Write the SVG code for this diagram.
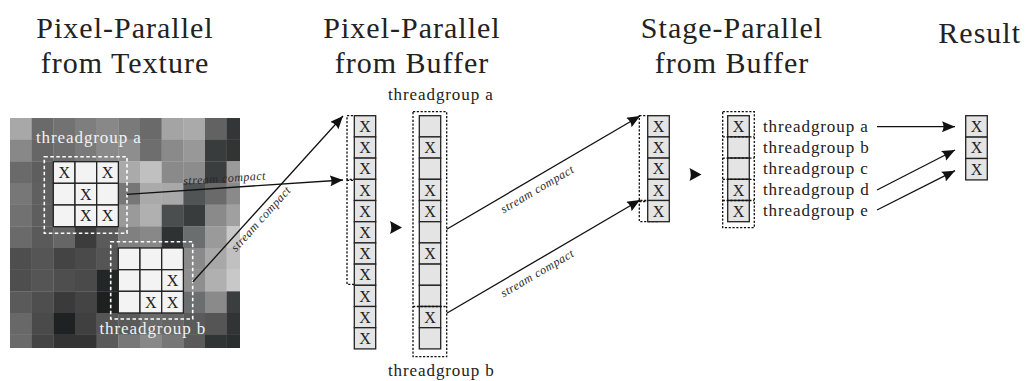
<svg xmlns="http://www.w3.org/2000/svg" width="1027" height="381" viewBox="0 0 1027 381">
  <style>
    .head { font-family: "Liberation Serif", "Times New Roman", serif; font-size: 30px; fill: #222; letter-spacing: 1px; text-anchor: middle; }
    .tg { font-family: "Liberation Serif", "Times New Roman", serif; font-size: 17px; fill: #222; letter-spacing: 0.9px; }
    .tgw { font-family: "Liberation Serif", "Times New Roman", serif; font-size: 17px; fill: #f2f2f2; letter-spacing: 0.9px; }
    .sc { font-family: "Liberation Serif", "Times New Roman", serif; font-size: 12px; font-style: italic; fill: #2a2a2a; letter-spacing: 0.5px; text-anchor: middle; }
    .x { font-family: "Liberation Serif", "Times New Roman", serif; font-size: 16px; fill: #222; text-anchor: middle; }
    .cell { fill: #e4e4e4; stroke: #222; stroke-width: 1.3; }
    .gcell { fill: #f3f3f3; stroke: #222; stroke-width: 1.3; }
    .wdash { fill: none; stroke: #fff; stroke-width: 1.6; stroke-dasharray: 3.5 2.5; }
    .kdash { fill: none; stroke: #111; stroke-width: 1.3; stroke-dasharray: 2.2 1.6; }
    .conn { fill: none; stroke: #111; stroke-width: 1.3; marker-end: url(#tip); }
    .head-tri { fill: #111; }
  </style>
  <defs>
    <marker id="tip" markerUnits="userSpaceOnUse" markerWidth="13" markerHeight="11" refX="13" refY="5.5" orient="auto">
      <path d="M0,0 L13,5.5 L0,11 Q3,5.5 0,0 z" fill="#111"/>
    </marker>
    <clipPath id="texclip"><rect x="10" y="118" width="230" height="230"/></clipPath>
  </defs>

  <rect width="1027" height="381" fill="#fff"/>

  <!-- column headings -->
  <g id="headings">
    <text class="head" x="125" y="38">Pixel-Parallel</text>
    <text class="head" x="125" y="73">from Texture</text>
    <text class="head" x="412" y="38">Pixel-Parallel</text>
    <text class="head" x="412" y="73">from Buffer</text>
    <text class="head" x="732" y="38">Stage-Parallel</text>
    <text class="head" x="732" y="73">from Buffer</text>
    <text class="head" x="1021" y="43" style="text-anchor:end">Result</text>
  </g>

  <!-- input texture: 11x11 grey texels -->
  <g id="texture" clip-path="url(#texclip)">
    <g transform="translate(10,118)">
      <rect x="0" y="0" width="21.9" height="21.9" fill="#a8a8a8"/><rect x="21.67" y="0" width="21.9" height="21.9" fill="#6a6a6a"/><rect x="43.33" y="0" width="21.9" height="21.9" fill="#727272"/><rect x="65" y="0" width="21.9" height="21.9" fill="#7e7e7e"/><rect x="86.67" y="0" width="21.9" height="21.9" fill="#888888"/><rect x="108.33" y="0" width="21.9" height="21.9" fill="#7a7a7a"/><rect x="130" y="0" width="21.9" height="21.9" fill="#6a6a6a"/><rect x="151.67" y="0" width="21.9" height="21.9" fill="#a4a4a4"/><rect x="173.33" y="0" width="21.9" height="21.9" fill="#aaaaaa"/><rect x="195" y="0" width="21.9" height="21.9" fill="#626262"/><rect x="216.67" y="0" width="21.9" height="21.9" fill="#333636"/>
      <rect x="0" y="21.67" width="21.9" height="21.9" fill="#888888"/><rect x="21.67" y="21.67" width="21.9" height="21.9" fill="#666666"/><rect x="43.33" y="21.67" width="21.9" height="21.9" fill="#6e6e6e"/><rect x="65" y="21.67" width="21.9" height="21.9" fill="#7a7a7a"/><rect x="86.67" y="21.67" width="21.9" height="21.9" fill="#8a8a8a"/><rect x="108.33" y="21.67" width="21.9" height="21.9" fill="#8e8e8e"/><rect x="130" y="21.67" width="21.9" height="21.9" fill="#6e6e6e"/><rect x="151.67" y="21.67" width="21.9" height="21.9" fill="#8a8a8a"/><rect x="173.33" y="21.67" width="21.9" height="21.9" fill="#989898"/><rect x="195" y="21.67" width="21.9" height="21.9" fill="#383c3c"/><rect x="216.67" y="21.67" width="21.9" height="21.9" fill="#323434"/>
      <rect x="0" y="43.33" width="21.9" height="21.9" fill="#6a6a6a"/><rect x="21.67" y="43.33" width="21.9" height="21.9" fill="#5e5e5e"/><rect x="43.33" y="43.33" width="21.9" height="21.9" fill="#707070"/><rect x="65" y="43.33" width="21.9" height="21.9" fill="#787878"/><rect x="86.67" y="43.33" width="21.9" height="21.9" fill="#888888"/><rect x="108.33" y="43.33" width="21.9" height="21.9" fill="#aaaaaa"/><rect x="130" y="43.33" width="21.9" height="21.9" fill="#c0c0c0"/><rect x="151.67" y="43.33" width="21.9" height="21.9" fill="#8a8a8a"/><rect x="173.33" y="43.33" width="21.9" height="21.9" fill="#8c8c8c"/><rect x="195" y="43.33" width="21.9" height="21.9" fill="#3a3e3e"/><rect x="216.67" y="43.33" width="21.9" height="21.9" fill="#9a9a9a"/>
      <rect x="0" y="65" width="21.9" height="21.9" fill="#777777"/><rect x="21.67" y="65" width="21.9" height="21.9" fill="#606060"/><rect x="43.33" y="65" width="21.9" height="21.9" fill="#707070"/><rect x="65" y="65" width="21.9" height="21.9" fill="#787878"/><rect x="86.67" y="65" width="21.9" height="21.9" fill="#808080"/><rect x="108.33" y="65" width="21.9" height="21.9" fill="#777777"/><rect x="130" y="65" width="21.9" height="21.9" fill="#aaaaaa"/><rect x="151.67" y="65" width="21.9" height="21.9" fill="#a8a8a8"/><rect x="173.33" y="65" width="21.9" height="21.9" fill="#505454"/><rect x="195" y="65" width="21.9" height="21.9" fill="#6a6a6a"/><rect x="216.67" y="65" width="21.9" height="21.9" fill="#8a8a8a"/>
      <rect x="0" y="86.67" width="21.9" height="21.9" fill="#717171"/><rect x="21.67" y="86.67" width="21.9" height="21.9" fill="#5e5e5e"/><rect x="43.33" y="86.67" width="21.9" height="21.9" fill="#6a6a6a"/><rect x="65" y="86.67" width="21.9" height="21.9" fill="#707070"/><rect x="86.67" y="86.67" width="21.9" height="21.9" fill="#787878"/><rect x="108.33" y="86.67" width="21.9" height="21.9" fill="#9a9a9a"/><rect x="130" y="86.67" width="21.9" height="21.9" fill="#b0b0b0"/><rect x="151.67" y="86.67" width="21.9" height="21.9" fill="#4a4e4e"/><rect x="173.33" y="86.67" width="21.9" height="21.9" fill="#383c3c"/><rect x="195" y="86.67" width="21.9" height="21.9" fill="#8a8a8a"/><rect x="216.67" y="86.67" width="21.9" height="21.9" fill="#a0a0a0"/>
      <rect x="0" y="108.33" width="21.9" height="21.9" fill="#6a6a6a"/><rect x="21.67" y="108.33" width="21.9" height="21.9" fill="#5a5a5a"/><rect x="43.33" y="108.33" width="21.9" height="21.9" fill="#666666"/><rect x="65" y="108.33" width="21.9" height="21.9" fill="#3c3c3c"/><rect x="86.67" y="108.33" width="21.9" height="21.9" fill="#5a5a5a"/><rect x="108.33" y="108.33" width="21.9" height="21.9" fill="#808080"/><rect x="130" y="108.33" width="21.9" height="21.9" fill="#888888"/><rect x="151.67" y="108.33" width="21.9" height="21.9" fill="#2e3232"/><rect x="173.33" y="108.33" width="21.9" height="21.9" fill="#6a6e6e"/><rect x="195" y="108.33" width="21.9" height="21.9" fill="#9a9a9a"/><rect x="216.67" y="108.33" width="21.9" height="21.9" fill="#c8c8c8"/>
      <rect x="0" y="130" width="21.9" height="21.9" fill="#4e4e4e"/><rect x="21.67" y="130" width="21.9" height="21.9" fill="#555555"/><rect x="43.33" y="130" width="21.9" height="21.9" fill="#444444"/><rect x="65" y="130" width="21.9" height="21.9" fill="#4a4a4a"/><rect x="86.67" y="130" width="21.9" height="21.9" fill="#555555"/><rect x="108.33" y="130" width="21.9" height="21.9" fill="#666666"/><rect x="130" y="130" width="21.9" height="21.9" fill="#707070"/><rect x="151.67" y="130" width="21.9" height="21.9" fill="#5a5a5a"/><rect x="173.33" y="130" width="21.9" height="21.9" fill="#8a8a8a"/><rect x="195" y="130" width="21.9" height="21.9" fill="#a8a8a8"/><rect x="216.67" y="130" width="21.9" height="21.9" fill="#c0c0c0"/>
      <rect x="0" y="151.67" width="21.9" height="21.9" fill="#4e4e4e"/><rect x="21.67" y="151.67" width="21.9" height="21.9" fill="#555555"/><rect x="43.33" y="151.67" width="21.9" height="21.9" fill="#4e4e4e"/><rect x="65" y="151.67" width="21.9" height="21.9" fill="#4a4a4a"/><rect x="86.67" y="151.67" width="21.9" height="21.9" fill="#222626"/><rect x="108.33" y="151.67" width="21.9" height="21.9" fill="#444444"/><rect x="130" y="151.67" width="21.9" height="21.9" fill="#707070"/><rect x="151.67" y="151.67" width="21.9" height="21.9" fill="#606060"/><rect x="173.33" y="151.67" width="21.9" height="21.9" fill="#8e8e8e"/><rect x="195" y="151.67" width="21.9" height="21.9" fill="#b0b0b0"/><rect x="216.67" y="151.67" width="21.9" height="21.9" fill="#c8c8c8"/>
      <rect x="0" y="173.33" width="21.9" height="21.9" fill="#5a5a5a"/><rect x="21.67" y="173.33" width="21.9" height="21.9" fill="#4e4e4e"/><rect x="43.33" y="173.33" width="21.9" height="21.9" fill="#3a3a3a"/><rect x="65" y="173.33" width="21.9" height="21.9" fill="#444444"/><rect x="86.67" y="173.33" width="21.9" height="21.9" fill="#1e2020"/><rect x="108.33" y="173.33" width="21.9" height="21.9" fill="#555555"/><rect x="130" y="173.33" width="21.9" height="21.9" fill="#777777"/><rect x="151.67" y="173.33" width="21.9" height="21.9" fill="#666666"/><rect x="173.33" y="173.33" width="21.9" height="21.9" fill="#6a6e6e"/><rect x="195" y="173.33" width="21.9" height="21.9" fill="#8a8a8a"/><rect x="216.67" y="173.33" width="21.9" height="21.9" fill="#3a3e3e"/>
      <rect x="0" y="195" width="21.9" height="21.9" fill="#686868"/><rect x="21.67" y="195" width="21.9" height="21.9" fill="#4a4a4a"/><rect x="43.33" y="195" width="21.9" height="21.9" fill="#1e2222"/><rect x="65" y="195" width="21.9" height="21.9" fill="#404040"/><rect x="86.67" y="195" width="21.9" height="21.9" fill="#555555"/><rect x="108.33" y="195" width="21.9" height="21.9" fill="#5a5a5a"/><rect x="130" y="195" width="21.9" height="21.9" fill="#6a6a6a"/><rect x="151.67" y="195" width="21.9" height="21.9" fill="#666666"/><rect x="173.33" y="195" width="21.9" height="21.9" fill="#5a5a5a"/><rect x="195" y="195" width="21.9" height="21.9" fill="#555555"/><rect x="216.67" y="195" width="21.9" height="21.9" fill="#303434"/>
      <rect x="0" y="216.67" width="21.9" height="21.9" fill="#6a6a6a"/><rect x="21.67" y="216.67" width="21.9" height="21.9" fill="#444444"/><rect x="43.33" y="216.67" width="21.9" height="21.9" fill="#333333"/><rect x="65" y="216.67" width="21.9" height="21.9" fill="#333333"/><rect x="86.67" y="216.67" width="21.9" height="21.9" fill="#5a5a5a"/><rect x="108.33" y="216.67" width="21.9" height="21.9" fill="#777777"/><rect x="130" y="216.67" width="21.9" height="21.9" fill="#888888"/><rect x="151.67" y="216.67" width="21.9" height="21.9" fill="#777777"/><rect x="173.33" y="216.67" width="21.9" height="21.9" fill="#5a5a5a"/><rect x="195" y="216.67" width="21.9" height="21.9" fill="#303434"/><rect x="216.67" y="216.67" width="21.9" height="21.9" fill="#2a2e2e"/>
    </g>
  </g>

  <!-- threadgroup a tile on the texture -->
  <g id="tile-a">
    <rect class="wdash" x="44.3" y="156.7" width="82.7" height="76.6"/>
    <rect class="gcell" x="53.3" y="161.7" width="21.67" height="21.67"/><rect class="gcell" x="75" y="161.7" width="21.67" height="21.67"/><rect class="gcell" x="96.7" y="161.7" width="21.67" height="21.67"/>
    <rect class="gcell" x="53.3" y="183.3" width="21.67" height="21.67"/><rect class="gcell" x="75" y="183.3" width="21.67" height="21.67"/><rect class="gcell" x="96.7" y="183.3" width="21.67" height="21.67"/>
    <rect class="gcell" x="53.3" y="205" width="21.67" height="21.67"/><rect class="gcell" x="75" y="205" width="21.67" height="21.67"/><rect class="gcell" x="96.7" y="205" width="21.67" height="21.67"/>
    <text class="x" x="64.2" y="178.1">X</text><text class="x" x="107.5" y="178.1">X</text>
    <text class="x" x="85.8" y="199.8">X</text>
    <text class="x" x="85.8" y="221.4">X</text><text class="x" x="107.5" y="221.4">X</text>
    <text class="tgw" x="36" y="142.5">threadgroup a</text>
  </g>

  <!-- threadgroup b tile on the texture -->
  <g id="tile-b">
    <rect class="wdash" x="110.7" y="241.7" width="82" height="77.3"/>
    <rect class="gcell" x="118.3" y="248" width="21.67" height="21.67"/><rect class="gcell" x="140" y="248" width="21.67" height="21.67"/><rect class="gcell" x="161.7" y="248" width="21.67" height="21.67"/>
    <rect class="gcell" x="118.3" y="269.7" width="21.67" height="21.67"/><rect class="gcell" x="140" y="269.7" width="21.67" height="21.67"/><rect class="gcell" x="161.7" y="269.7" width="21.67" height="21.67"/>
    <rect class="gcell" x="118.3" y="291.3" width="21.67" height="21.67"/><rect class="gcell" x="140" y="291.3" width="21.67" height="21.67"/><rect class="gcell" x="161.7" y="291.3" width="21.67" height="21.67"/>
    <text class="x" x="172.5" y="286.1">X</text>
    <text class="x" x="150.8" y="307.8">X</text><text class="x" x="172.5" y="307.8">X</text>
    <text class="tgw" x="99.5" y="334">threadgroup b</text>
  </g>

  <!-- compacted pixel buffer -->
  <g id="pixel-buffer">
    <rect class="kdash" x="347" y="115.7" width="20" height="63.6"/>
    <rect class="kdash" x="347" y="180.3" width="20" height="104"/>
    <rect class="cell" x="354.3" y="115.7" width="21.4" height="21.2"/><rect class="cell" x="354.3" y="136.9" width="21.4" height="21.2"/><rect class="cell" x="354.3" y="158.1" width="21.4" height="21.2"/><rect class="cell" x="354.3" y="179.3" width="21.4" height="21.2"/><rect class="cell" x="354.3" y="200.5" width="21.4" height="21.2"/><rect class="cell" x="354.3" y="221.7" width="21.4" height="21.2"/><rect class="cell" x="354.3" y="242.9" width="21.4" height="21.2"/><rect class="cell" x="354.3" y="264.1" width="21.4" height="21.2"/><rect class="cell" x="354.3" y="285.3" width="21.4" height="21.2"/><rect class="cell" x="354.3" y="306.5" width="21.4" height="21.2"/><rect class="cell" x="354.3" y="327.7" width="21.4" height="21.2"/>
    <text class="x" x="365" y="131.9">X</text><text class="x" x="365" y="153.1">X</text><text class="x" x="365" y="174.3">X</text><text class="x" x="365" y="195.5">X</text><text class="x" x="365" y="216.7">X</text><text class="x" x="365" y="237.9">X</text><text class="x" x="365" y="259.1">X</text><text class="x" x="365" y="280.3">X</text><text class="x" x="365" y="301.5">X</text><text class="x" x="365" y="322.7">X</text><text class="x" x="365" y="343.9">X</text>
  </g>

  <!-- per-threadgroup buffer layout -->
  <g id="group-buffer">
    <rect class="kdash" x="413" y="111.7" width="33.7" height="245"/>
    <rect class="cell" x="419.3" y="115.7" width="21.4" height="21.2"/><rect class="cell" x="419.3" y="136.9" width="21.4" height="21.2"/><rect class="cell" x="419.3" y="158.1" width="21.4" height="21.2"/><rect class="cell" x="419.3" y="179.3" width="21.4" height="21.2"/><rect class="cell" x="419.3" y="200.5" width="21.4" height="21.2"/><rect class="cell" x="419.3" y="221.7" width="21.4" height="21.2"/><rect class="cell" x="419.3" y="242.9" width="21.4" height="21.2"/><rect class="cell" x="419.3" y="264.1" width="21.4" height="21.2"/><rect class="cell" x="419.3" y="285.3" width="21.4" height="21.2"/><rect class="cell" x="419.3" y="306.5" width="21.4" height="21.2"/><rect class="cell" x="419.3" y="327.7" width="21.4" height="21.2"/>
    <line class="kdash" x1="413" y1="306.5" x2="446.7" y2="306.5"/>
    <text class="x" x="430" y="153.1">X</text><text class="x" x="430" y="195.5">X</text><text class="x" x="430" y="216.7">X</text><text class="x" x="430" y="259.1">X</text><text class="x" x="430" y="322.7">X</text>
    <text class="tg" x="388" y="100">threadgroup a</text>
    <text class="tg" x="388" y="376">threadgroup b</text>
  </g>

  <!-- compacted stage buffer -->
  <g id="stage-buffer">
    <rect class="kdash" x="639.3" y="115.7" width="20" height="84.8"/>
    <rect class="kdash" x="639.3" y="201.5" width="20" height="20.2"/>
    <rect class="cell" x="647.7" y="115.7" width="21.6" height="21.2"/><rect class="cell" x="647.7" y="136.9" width="21.6" height="21.2"/><rect class="cell" x="647.7" y="158.1" width="21.6" height="21.2"/><rect class="cell" x="647.7" y="179.3" width="21.6" height="21.2"/><rect class="cell" x="647.7" y="200.5" width="21.6" height="21.2"/>
    <text class="x" x="658.5" y="131.9">X</text><text class="x" x="658.5" y="153.1">X</text><text class="x" x="658.5" y="174.3">X</text><text class="x" x="658.5" y="195.5">X</text><text class="x" x="658.5" y="216.7">X</text>
  </g>

  <!-- per-threadgroup stage slots -->
  <g id="stage-slots">
    <rect class="kdash" x="722.7" y="111.7" width="31.6" height="116"/>
    <rect class="cell" x="727.7" y="115.7" width="21.6" height="21.2"/><rect class="cell" x="727.7" y="136.9" width="21.6" height="21.2"/><rect class="cell" x="727.7" y="158.1" width="21.6" height="21.2"/><rect class="cell" x="727.7" y="179.3" width="21.6" height="21.2"/><rect class="cell" x="727.7" y="200.5" width="21.6" height="21.2"/>
    <line class="kdash" x1="722.7" y1="136.9" x2="754.3" y2="136.9"/>
    <line class="kdash" x1="722.7" y1="158.1" x2="754.3" y2="158.1"/>
    <line class="kdash" x1="722.7" y1="179.3" x2="754.3" y2="179.3"/>
    <line class="kdash" x1="722.7" y1="200.5" x2="754.3" y2="200.5"/>
    <text class="x" x="738.5" y="131.9">X</text><text class="x" x="738.5" y="195.5">X</text><text class="x" x="738.5" y="216.7">X</text>
    <text class="tg" x="763" y="131.5">threadgroup a</text>
    <text class="tg" x="763" y="152.7">threadgroup b</text>
    <text class="tg" x="763" y="173.9">threadgroup c</text>
    <text class="tg" x="763" y="195.1">threadgroup d</text>
    <text class="tg" x="763" y="216.3">threadgroup e</text>
  </g>

  <!-- result -->
  <g id="result">
    <rect class="cell" x="965.7" y="115.7" width="21.6" height="21.4"/><rect class="cell" x="965.7" y="137.1" width="21.6" height="21.4"/><rect class="cell" x="965.7" y="158.5" width="21.6" height="21.4"/>
    <text class="x" x="976.5" y="132">X</text><text class="x" x="976.5" y="153.4">X</text><text class="x" x="976.5" y="174.8">X</text>
  </g>

  <!-- connectors -->
  <g id="connectors">
    <line class="conn" x1="126.7" y1="194.3" x2="343" y2="180"/>
    <line class="conn" x1="192.7" y1="282" x2="343" y2="116"/>
    <line class="conn" x1="446.7" y1="229.3" x2="640" y2="116"/>
    <line class="conn" x1="446.7" y1="313.3" x2="640" y2="200"/>
    <line class="conn" x1="877" y1="126.7" x2="955" y2="126.7"/>
    <line class="conn" x1="877" y1="190" x2="955" y2="150"/>
    <line class="conn" x1="877" y1="210" x2="955" y2="170.7"/>
    <path class="head-tri" d="M390,221 L402,227.5 L390,234 Q392.5,227.5 390,221 z"/>
    <path class="head-tri" d="M689.5,168 L701.5,174.5 L689.5,181 Q692,174.5 689.5,168 z"/>
    <text class="sc" transform="translate(224.8,182.2) rotate(-3.8)">stream compact</text>
    <text class="sc" transform="translate(263.9,221.4) rotate(-47.9)">stream compact</text>
    <text class="sc" transform="translate(539.3,192.5) rotate(-30.4)">stream compact</text>
    <text class="sc" transform="translate(539.3,276.5) rotate(-30.4)">stream compact</text>
  </g>
</svg>
